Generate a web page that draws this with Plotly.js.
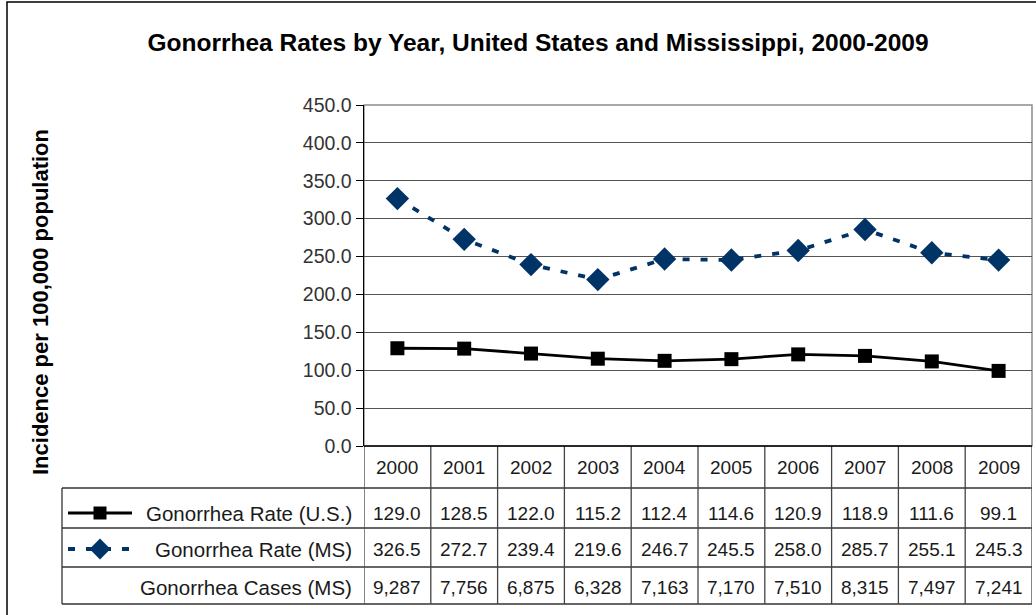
<!DOCTYPE html>
<html>
<head>
<meta charset="utf-8">
<script src="https://cdn.plot.ly/plotly-3.0.1.min.js"></script>
<style>html,body{margin:0;padding:0;background:#fff;}#chart{width:1036px;height:615px;}</style>
</head>
<body>
<div id="chart"></div>
<script>
// ---- data ----
const years = ["2000","2001","2002","2003","2004","2005","2006","2007","2008","2009"];
const rateUS = [129.0,128.5,122.0,115.2,112.4,114.6,120.9,118.9,111.6,99.1];
const rateMS = [326.5,272.7,239.4,219.6,246.7,245.5,258.0,285.7,255.1,245.3];
const casesMS = [9287,7756,6875,6328,7163,7170,7510,8315,7497,7241];
const rowLabels = ["Gonorrhea Rate (U.S.)","Gonorrhea Rate (MS)","Gonorrhea Cases (MS)"];
const titleText = "Gonorrhea Rates by Year, United States and Mississippi, 2000-2009";
const yTitle = "Incidence per 100,000 population";

// ---- layout geometry (pixels) ----
const W = 1036, H = 615;
const plotL = 364, plotR = 1032, plotT = 105, plotB = 446;
const rowEdges = [446, 488, 528, 567, 604];
const rowCenters = [467, 513, 549, 587];
const tableL = 62;
const px = x => x / W;
const py = y => 1 - y / H;

const usColor = "#000000", msColor = "#003366";
const FAM = "Liberation Sans, Arial, sans-serif";
const numFont = {family: FAM, size: 19, color: "#1a1a1a"};
const labFont = {family: FAM, size: 20.5, color: "#1a1a1a"};

const idx = years.map((_, i) => i);

const traces = [
  {x: idx, y: rateUS, type: "scatter", mode: "lines+markers", name: rowLabels[0],
   line: {color: usColor, width: 2.8}, marker: {symbol: "square", size: 14, color: usColor},
   xaxis: "x", yaxis: "y"},
  {x: idx, y: rateMS, type: "scatter", mode: "lines+markers", name: rowLabels[1],
   line: {color: msColor, width: 3.8, dash: "7px,11px"}, marker: {symbol: "diamond", size: 18, color: msColor},
   xaxis: "x", yaxis: "y"},
  // legend swatches inside the data table (pixel-space subplot)
  {x: [68, 132], y: [513, 513], type: "scatter", mode: "lines", line: {color: usColor, width: 2.8},
   xaxis: "x2", yaxis: "y2", hoverinfo: "skip"},
  {x: [100], y: [513], type: "scatter", mode: "markers", marker: {symbol: "square", size: 13, color: usColor},
   xaxis: "x2", yaxis: "y2", hoverinfo: "skip"},
  {x: [68, 132], y: [549, 549], type: "scatter", mode: "lines", line: {color: msColor, width: 3.8, dash: "7px,11px"},
   xaxis: "x2", yaxis: "y2", hoverinfo: "skip"},
  {x: [100], y: [549], type: "scatter", mode: "markers", marker: {symbol: "diamond", size: 16, color: msColor},
   xaxis: "x2", yaxis: "y2", hoverinfo: "skip"}
];

const shapes = [];
// outer chart border
shapes.push({type: "rect", xref: "paper", yref: "paper", x0: px(7), x1: px(1040), y0: py(2), y1: py(620),
  line: {color: "#000", width: 1.5}, layer: "below"});
// plot area frame (grey)
shapes.push({type: "rect", xref: "paper", yref: "paper", x0: px(plotL), x1: px(plotR), y0: py(plotB), y1: py(plotT),
  line: {color: "#8c8c8c", width: 1.5}, layer: "below"});
// table horizontal lines
for (let r = 1; r < rowEdges.length; r++) {
  shapes.push({type: "line", xref: "paper", yref: "paper", x0: px(tableL), x1: px(plotR), y0: py(rowEdges[r]), y1: py(rowEdges[r]), line: {color: "#333", width: 1.3}});
}
// table left border
shapes.push({type: "line", xref: "paper", yref: "paper", x0: px(tableL), x1: px(tableL), y0: py(rowEdges[1]), y1: py(rowEdges[4]), line: {color: "#333", width: 1.3}});
// column separators via the x axis
for (let i = 0; i <= years.length; i++) {
  shapes.push({type: "line", xref: "x", yref: "paper", x0: i - 0.5, x1: i - 0.5, y0: py(rowEdges[0]), y1: py(rowEdges[4]),
    line: {color: "#444", width: 1.3}});
}
// x axis line (black) at 0
shapes.push({type: "line", xref: "paper", yref: "paper", x0: px(plotL), x1: px(plotR), y0: py(plotB), y1: py(plotB), line: {color: "#000", width: 1.5}});

const annotations = [];
annotations.push({text: yTitle, xref: "paper", yref: "paper", x: px(41), y: py(302), textangle: -90,
  showarrow: false, xanchor: "center", yanchor: "middle",
  font: {family: FAM, size: 22, color: "#000", weight: "bold"}});
years.forEach((yr, i) => {
  const common = {xref: "x", yref: "paper", x: i, showarrow: false, xanchor: "center", yanchor: "middle", font: numFont};
  annotations.push(Object.assign({}, common, {text: yr, y: py(rowCenters[0])}));
  annotations.push(Object.assign({}, common, {text: rateUS[i].toFixed(1), y: py(rowCenters[1])}));
  annotations.push(Object.assign({}, common, {text: rateMS[i].toFixed(1), y: py(rowCenters[2])}));
  annotations.push(Object.assign({}, common, {text: casesMS[i].toLocaleString("en-US"), y: py(rowCenters[3])}));
});
rowLabels.forEach((lab, r) => {
  annotations.push({text: lab, xref: "paper", yref: "paper", x: px(354), y: py(rowCenters[r + 1]), xanchor: "right", yanchor: "middle",
    showarrow: false, font: labFont});
});

const layout = {
  width: W, height: H,
  margin: {l: 0, r: 0, t: 0, b: 0},
  paper_bgcolor: "#fff", plot_bgcolor: "rgba(0,0,0,0)",
  showlegend: false,
  title: {text: titleText, x: px(538), xanchor: "center", y: py(42), yanchor: "middle", xref: "container", yref: "container",
    font: {family: FAM, size: 24.5, color: "#000", weight: "bold"}},
  xaxis: {domain: [px(plotL), px(plotR)], range: [-0.5, 9.5], showticklabels: false, showgrid: false,
    zeroline: false, showline: false, ticks: "", fixedrange: true, anchor: "y"},
  yaxis: {domain: [py(plotB), py(plotT)], range: [0, 450], dtick: 50, tick0: 0, tickformat: ".1f",
    showgrid: true, gridcolor: "#555", gridwidth: 1, zeroline: false, anchor: "x",
    showline: true, linecolor: "#000", linewidth: 1.5, ticks: "outside", ticklen: 7, tickcolor: "#000",
    tickfont: {family: FAM, size: 19.5, color: "#333"}, fixedrange: true},
  xaxis2: {domain: [0, 1], range: [0, W], visible: false, anchor: "y2", fixedrange: true},
  yaxis2: {domain: [0, 1], range: [H, 0], visible: false, anchor: "x2", fixedrange: true},
  shapes: shapes,
  annotations: annotations
};

Plotly.newPlot("chart", traces, layout, {displayModeBar: false, staticPlot: true});
</script>
</body>
</html>
